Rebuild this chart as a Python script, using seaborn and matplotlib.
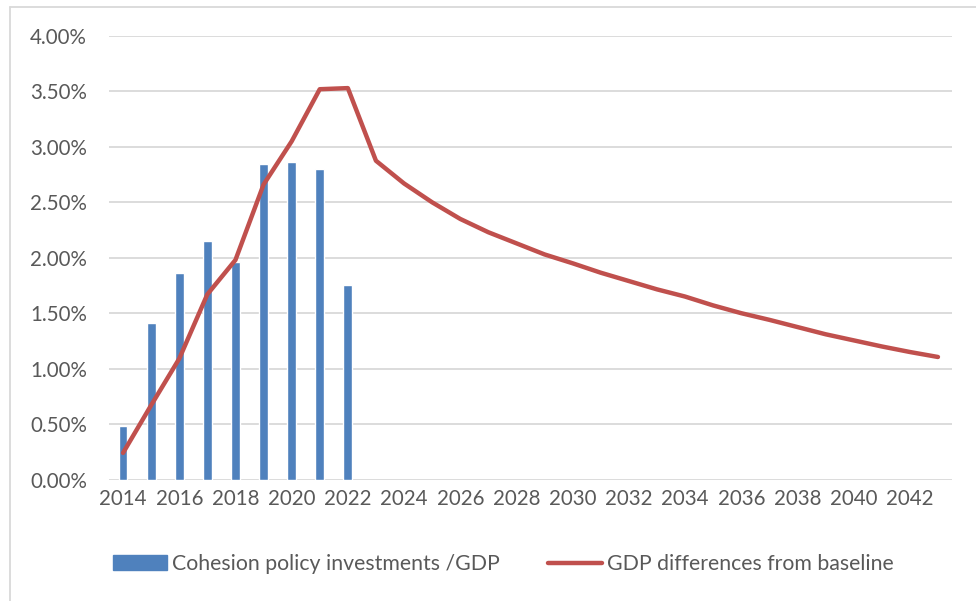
import matplotlib
matplotlib.use("Agg")
import matplotlib.pyplot as plt
import matplotlib.lines as mlines
import seaborn as sns
import pandas as pd
from matplotlib.ticker import FuncFormatter

# ---- data ----
years = list(range(2014, 2044))
bar_years = list(range(2014, 2023))
cohesion_investments = [0.48, 1.41, 1.86, 2.15, 1.96, 2.85, 2.86, 2.80, 1.75]
gdp_diff = [0.24, 0.67, 1.09, 1.67, 1.98, 2.66, 3.05, 3.52, 3.53, 2.875,
            2.67, 2.50, 2.35, 2.23, 2.13, 2.03, 1.95, 1.865, 1.79, 1.715,
            1.65, 1.57, 1.50, 1.44, 1.375, 1.31, 1.255, 1.20, 1.15, 1.105]
yticks = [0, 0.5, 1.0, 1.5, 2.0, 2.5, 3.0, 3.5, 4.0]
xticks = list(range(2014, 2043, 2))
bar_label = "Cohesion policy investments /GDP"
line_label = "GDP differences from baseline"

bar_color = "#4F81BD"
line_color = "#C0504D"
text_color = "#595959"
grid_color = "#D9D9D9"

sns.set_theme(style="white")
plt.rcParams['font.family'] = ['Lato', 'DejaVu Sans']

W, H = 976, 601
fig = plt.figure(figsize=(W / 100, H / 100), dpi=100)
ax = fig.add_axes([109 / W, 1 - 479.5 / H, (952 - 109) / W, (479.5 - 36) / H])

df_bar = pd.DataFrame({"year": bar_years, "value": cohesion_investments})
df_line = pd.DataFrame({"year": years, "value": gdp_diff})

sns.barplot(data=df_bar, x="year", y="value", native_scale=True, width=0.31,
            color=bar_color, saturation=1, ax=ax, zorder=2)
sns.lineplot(data=df_line, x="year", y="value", color=line_color, lw=3.2,
             ax=ax, zorder=3, solid_capstyle="round")

ax.set_xlim(2013.5, 2043.5)
ax.set_ylim(0, 4.0)
ax.set_yticks(yticks)
ax.set_xticks(xticks)
ax.set_xticklabels([str(y) for y in xticks])
ax.yaxis.set_major_formatter(FuncFormatter(lambda v, p: f"{v:.2f}%"))
ax.set_xlabel("")
ax.set_ylabel("")
ax.grid(axis="y", color=grid_color, lw=1.3, zorder=0)
ax.set_axisbelow(True)
for s in ax.spines.values():
    s.set_visible(False)
ax.tick_params(axis="both", length=0, labelsize=14.8, colors=text_color)
ax.tick_params(axis="y", pad=16)
ax.tick_params(axis="x", pad=7)

# legend
h1 = matplotlib.patches.Patch(facecolor=bar_color, edgecolor=bar_color)
h2 = mlines.Line2D([], [], color=line_color, lw=3.2, solid_capstyle="round")
leg = fig.legend([h1, h2], [bar_label, line_label], loc="center",
                 bbox_to_anchor=(503.5 / W, 1 - 564 / H), ncol=2, frameon=False,
                 fontsize=15.3, handlelength=2.5, handleheight=0.68,
                 handletextpad=0.25, columnspacing=2.3, labelcolor=text_color)

# outer chart border (top and left visible)
fig.add_artist(mlines.Line2D([10 / W, 1], [1 - 7 / H, 1 - 7 / H], color=grid_color, lw=1.3))
fig.add_artist(mlines.Line2D([10 / W, 10 / W], [0, 1 - 7 / H], color=grid_color, lw=1.3))

fig.savefig("out.png", dpi=100)
